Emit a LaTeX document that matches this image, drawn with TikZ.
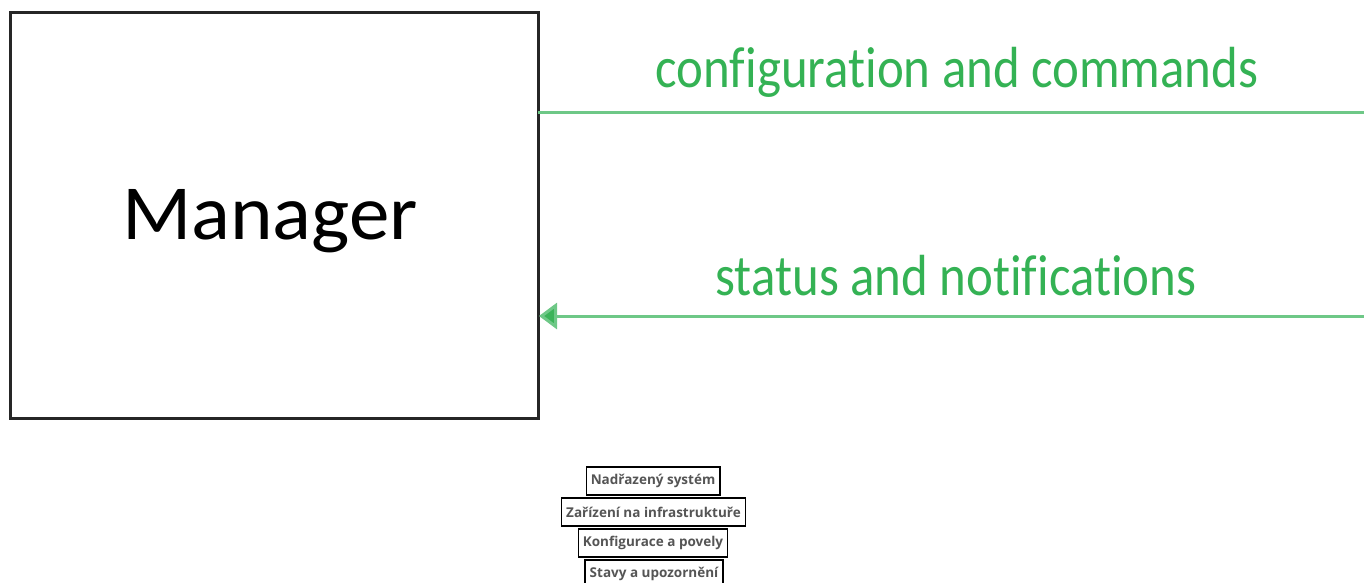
\documentclass[tikz,border=0pt]{standalone}
\usepackage{fontspec}
\setmainfont{Carlito}[Ligatures=NoCommon]
\newfontfamily\osans{Open Sans}
\usetikzlibrary{arrows.meta}
\definecolor{txtgreen}{RGB}{52,178,84}
\definecolor{linegreen}{RGB}{110,200,135}
\definecolor{arrgreen}{RGB}{60,180,90}
\definecolor{labgray}{RGB}{85,85,85}
\tikzset{
  mgr/.style={draw=black!85, line width=3pt, minimum width=528pt, minimum height=406pt, inner sep=0pt},
  flowlabel/.style={text=txtgreen, font=\fontsize{58}{60}\selectfont, inner sep=0pt, xscale=0.877},
  flowline/.style={draw=linegreen, line width=3pt},
  tagbox/.style={draw=black, line width=1.5pt, fill=white, font=\osans\bfseries\fontsize{13.5}{15}\selectfont, text=labgray, inner xsep=4.5pt, inner ysep=0pt, minimum height=28pt}
}
\begin{document}
\begin{tikzpicture}[x=1pt,y=-1pt]
\useasboundingbox (0,0) rectangle (1364,582);
\clip (0,0) rectangle (1364,582);
\node[mgr] (m) at (274,215) {};
\node[font=\fontsize{78}{80}\selectfont, text=black, xscale=1.04] (mt) at (270,221) {Manager};
\coordinate (r1) at (1366,112);
\coordinate (r2) at (1366,316);
\coordinate (l1) at (538,112);
\coordinate (l2) at (539,316);
\draw[flowline] (l1) -- (r1);
\draw[flowline, -{Triangle[length=18pt,width=26pt,fill=arrgreen]}] (r2) -- (l2);
\node[flowlabel] (c1) at (957,72) {configuration and commands};
\node[flowlabel] (c2) at (956,276) {status and notifications};
\node[tagbox] (t1) at (653,481) {Nadřazený systém};
\node[tagbox] (t2) at (653.5,512) {Zařízení na infrastruktuře};
\node[tagbox] (t3) at (653,543) {Konfigurace a povely};
\node[tagbox] (t4) at (654,574) {Stavy a upozornění};
\end{tikzpicture}
\end{document}
